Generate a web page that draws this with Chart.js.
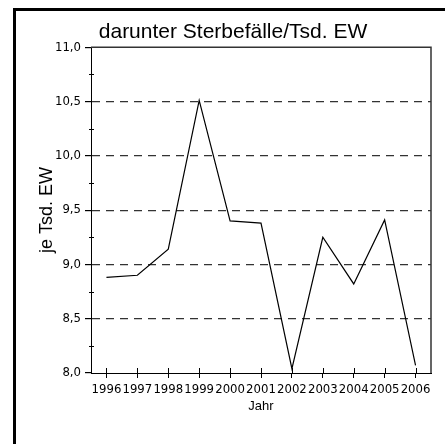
<!DOCTYPE html>
<html>
<head>
<meta charset="utf-8">
<script src="https://cdn.jsdelivr.net/npm/chart.js@4"></script>
<style>
    html, body { margin: 0; padding: 0; background: #fff; }
    #wrap { position: relative; width: 445px; height: 444px; overflow: hidden; }
    #rahmen { position: absolute; left: 13px; top: 8px; width: 460px; height: 460px;
              border-left: 3px solid #000; border-top: 3px solid #000; }
    canvas { position: absolute; left: 0; top: 0; }
</style>
</head>
<body>
<div id="wrap">
    <div id="rahmen"></div>
    <canvas id="chart" width="445" height="444"></canvas>
</div>
<script>
// Daten
const jahre = ['1996', '1997', '1998', '1999', '2000', '2001', '2002', '2003', '2004', '2005', '2006'];
const sterbefaelle = [8.88, 8.90, 9.14, 10.51, 9.40, 9.38, 8.04, 9.25, 8.82, 9.41, 8.07];
const yMin = 8.0;
const yMax = 11.0;

const schmal = "'DejaVu Sans Condensed', 'Liberation Sans Narrow', sans-serif";
const normal = "'Liberation Sans', Arial, sans-serif";

// Rahmen oben/rechts, kleine Ticks
const rahmenPlugin = {
    id: 'rahmen',
    afterDraw(chart) {
        const { ctx, chartArea: a, scales } = chart;
        ctx.save();
        ctx.strokeStyle = '#333';
        ctx.lineWidth = 1.5;
        ctx.beginPath();
        ctx.moveTo(a.left, a.top);
        ctx.lineTo(a.right, a.top);
        ctx.lineTo(a.right, a.bottom);
        ctx.stroke();

        ctx.strokeStyle = '#000';
        ctx.lineWidth = 1;
        ctx.beginPath();
        // Zwischenticks y
        for (let v = yMin + 0.25; v < yMax; v += 0.5) {
            const y = Math.round(scales.y.getPixelForValue(v)) + 0.5;
            ctx.moveTo(a.left - 2, y);
            ctx.lineTo(a.left + 3, y);
        }
        // x-Ticks nach oben
        jahre.forEach((j, i) => {
            const x = Math.round(scales.x.getPixelForValue(i)) + 0.5;
            ctx.moveTo(x, a.bottom);
            ctx.lineTo(x, a.bottom - 5);
        });
        ctx.stroke();
        ctx.restore();
    }
};

new Chart(document.getElementById('chart'), {
    type: 'line',
    data: {
        labels: jahre,
        datasets: [{
            data: sterbefaelle,
            borderColor: '#000',
            borderWidth: 1.2,
            pointRadius: 0,
            fill: false,
            tension: 0
        }]
    },
    options: {
        responsive: false,
        animation: false,
        layout: { padding: { left: 35, right: 14, top: 0, bottom: 30 } },
        plugins: {
            legend: { display: false },
            tooltip: { enabled: false },
            title: {
                display: true,
                text: 'darunter Sterbefälle/Tsd. EW',
                color: '#000',
                font: { family: normal, size: 21, weight: 'normal' },
                padding: { top: 20, bottom: 2 }
            }
        },
        scales: {
            x: {
                type: 'category',
                offset: true,
                grid: {
                    offset: false,
                    drawOnChartArea: false,
                    tickLength: 5,
                    tickColor: '#000'
                },
                border: { color: '#000', width: 1 },
                ticks: {
                    color: '#000',
                    font: { family: schmal, size: 13 },
                    padding: 4,
                    autoSkip: false,
                    maxRotation: 0
                },
                title: {
                    display: true,
                    text: 'Jahr',
                    color: '#000',
                    font: { family: normal, size: 13 },
                    padding: 0
                },
                afterFit(scale) { scale.height = 41; }
            },
            y: {
                min: yMin,
                max: yMax,
                grid: {
                    color: c => (c.tick && c.tick.value > yMin && c.tick.value < yMax) ? '#333' : 'rgba(0,0,0,0)',
                    lineWidth: 1.2,
                    tickColor: '#000',
                    tickLength: 6
                },
                border: { color: '#000', width: 1, dash: [8, 6] },
                ticks: {
                    stepSize: 0.5,
                    color: '#000',
                    font: { family: schmal, size: 13 },
                    padding: 4,
                    callback: v => Number(v).toFixed(1).replace('.', ',')
                },
                title: {
                    display: true,
                    text: 'je Tsd. EW',
                    color: '#000',
                    font: { family: normal, size: 18 },
                    padding: { top: 1, bottom: 0 }
                },
                afterFit(scale) { scale.width = 56; }
            }
        }
    },
    plugins: [rahmenPlugin]
});
</script>
</body>
</html>
